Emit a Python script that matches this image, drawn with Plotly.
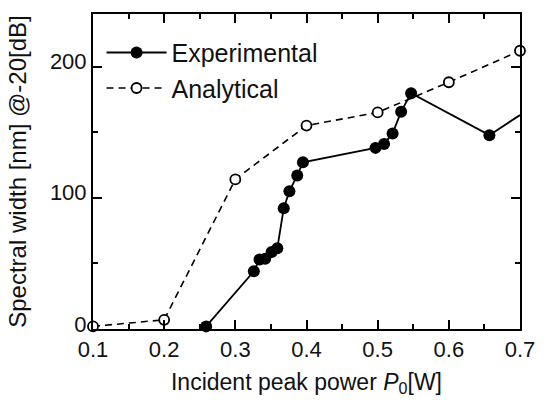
import plotly.graph_objects as go

exp_x = [0.259, 0.326, 0.334, 0.342, 0.351, 0.359, 0.368, 0.376, 0.387, 0.395,
         0.497, 0.509, 0.521, 0.533, 0.547, 0.657]
exp_y = [2, 44, 53, 53.5, 58.6, 61.6, 92, 105, 117, 127,
         138, 141, 149, 165.6, 179.7, 147.7]
exp_tail_x = [0.657, 0.70]
exp_tail_y = [147.7, 163]

ana_x = [0.1, 0.2, 0.3, 0.4, 0.5, 0.6, 0.7]
ana_y = [2, 7, 114, 155, 165, 188, 212]

x_ticks = [0.1, 0.2, 0.3, 0.4, 0.5, 0.6, 0.7]
x_labels = ["0.1", "0.2", "0.3", "0.4", "0.5", "0.6", "0.7"]
y_ticks = [0, 100, 200]
y_labels = ["0", "100", "200"]

FONT = "Liberation Sans, Arial, sans-serif"
TXT = "#111"

fig = go.Figure()
fig.add_trace(go.Scatter(
    x=exp_x, y=exp_y, mode="lines+markers", name="Experimental",
    line=dict(color="black", width=1.8),
    marker=dict(symbol="circle", size=12, color="black"),
    cliponaxis=False,
))
fig.add_trace(go.Scatter(
    x=exp_tail_x, y=exp_tail_y, mode="lines", showlegend=False,
    line=dict(color="black", width=1.8),
))
fig.add_trace(go.Scatter(
    x=ana_x, y=ana_y, mode="lines+markers", name="Analytical",
    line=dict(color="black", width=1.6, dash="7px,5px"),
    marker=dict(symbol="circle", size=10, color="white",
                line=dict(color="black", width=1.8)),
    cliponaxis=False,
))

axis_common = dict(
    showline=True, linecolor="black", linewidth=2, mirror="allticks",
    ticks="inside", ticklen=9, tickwidth=1.5, tickcolor="black",
    showgrid=False, zeroline=False,
    tickfont=dict(family=FONT, size=22, color=TXT),
)

fig.update_xaxes(
    range=[0.1, 0.7], tickvals=x_ticks, ticktext=x_labels,
    minor=dict(dtick=0.05, tick0=0.1, ticks="inside", ticklen=5, tickwidth=1.5,
               tickcolor="black"),
    title=dict(text="Incident peak power <i>P</i><sub>0</sub>[W]",
               font=dict(family=FONT, size=23, color=TXT), standoff=12),
    **axis_common,
)
fig.update_yaxes(
    range=[0, 240], tickvals=y_ticks, ticktext=y_labels,
    ticklabelshift=-5,
    minor=dict(dtick=50, tick0=0, ticks="inside", ticklen=5, tickwidth=1.5,
               tickcolor="black"),
    title=dict(text="Spectral width [nm] @-20[dB]",
               font=dict(family=FONT, size=24, color=TXT), standoff=16),
    **axis_common,
)

fig.update_layout(
    width=547, height=412,
    margin=dict(l=93, r=16, t=12, b=83),
    paper_bgcolor="white", plot_bgcolor="white",
    showlegend=True,
    legend=dict(
        x=0.02, y=0.95, xanchor="left", yanchor="top",
        bgcolor="rgba(0,0,0,0)", itemwidth=60,
        font=dict(family=FONT, size=25, color=TXT),
        tracegroupgap=0,
    ),
)

fig.write_html("out.html")
